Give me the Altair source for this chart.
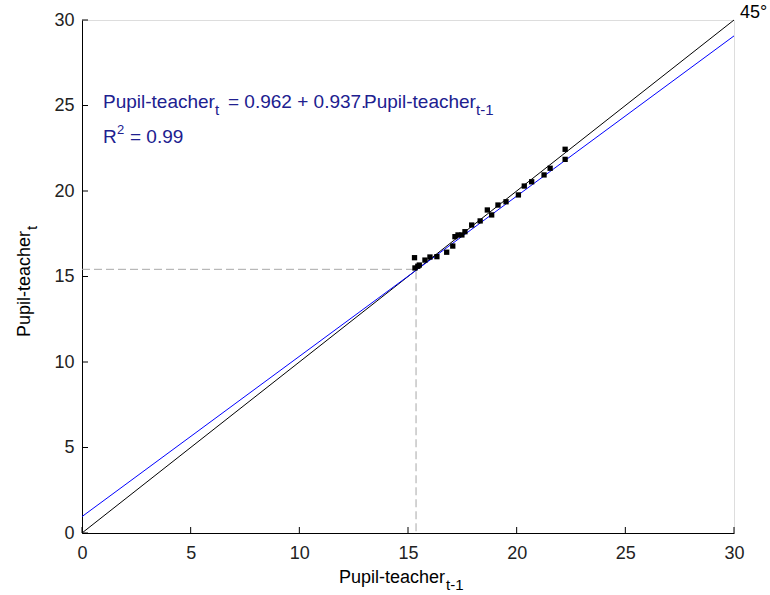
import altair as alt
import pandas as pd

FONT = "Liberation Sans"
NAVY = "#20208f"

tick_values = [0, 5, 10, 15, 20, 25, 30]

obs_x = [15.30, 15.32, 15.52, 15.45, 15.78, 16.01, 16.33, 16.78, 17.06, 17.16, 17.30,
         17.48, 17.62, 17.93, 18.32, 18.65, 18.85, 19.14, 19.51, 20.08, 20.35,
         20.69, 21.26, 21.54, 22.23, 22.23]
obs_y = [16.10, 15.50, 15.67, 15.60, 15.96, 16.14, 16.16, 16.42, 16.78, 17.33, 17.43,
         17.43, 17.62, 18.01, 18.25, 18.89, 18.60, 19.18, 19.37, 19.77, 20.29,
         20.54, 20.94, 21.33, 21.85, 22.44]

fit_x = [0, 30]
fit_y = [0.96, 29.07]
diag_x = [0, 30]
diag_y = [0, 30]
guide_x = [0, 15.37, 15.37]
guide_y = [15.42, 15.42, 0]

W, H = 652, 513

xs = alt.Scale(domain=[0, 30], nice=False)
ys = alt.Scale(domain=[0, 30], nice=False)

axis_common = dict(grid=False, ticks=False, domainColor="black", domainWidth=1,
                   labelFont=FONT, labelFontSize=18, labelColor="#222222",
                   labelFlush=False, values=tick_values, format="d", title=None)

obs = pd.DataFrame({"x": obs_x, "y": obs_y})
fit = pd.DataFrame({"x": fit_x, "y": fit_y})
diag = pd.DataFrame({"x": diag_x, "y": diag_y})
guide = pd.DataFrame({"x": guide_x, "y": guide_y, "o": [0, 1, 2]})
ticks = pd.DataFrame({"v": tick_values})
one = pd.DataFrame({"a": [0]})

base_axes = alt.Chart(diag).mark_line(color="black", strokeWidth=1).encode(
    x=alt.X("x:Q", scale=xs, axis=alt.Axis(labelPadding=11, **axis_common)),
    y=alt.Y("y:Q", scale=ys, axis=alt.Axis(labelPadding=8, **axis_common)),
)

fit_line = alt.Chart(fit).mark_line(color="#0000ff", strokeWidth=1).encode(
    x=alt.X("x:Q", scale=xs), y=alt.Y("y:Q", scale=ys))

guide_line = alt.Chart(guide).mark_line(color="#a8a8a8", strokeWidth=1, strokeDash=[8, 4]).encode(
    x=alt.X("x:Q", scale=xs), y=alt.Y("y:Q", scale=ys), order="o:Q")

points = alt.Chart(obs).mark_point(shape="square", filled=True, color="black", size=28, opacity=1).encode(
    x=alt.X("x:Q", scale=xs), y=alt.Y("y:Q", scale=ys))

xticks = alt.Chart(ticks).mark_rule(color="black", strokeWidth=1).encode(
    x=alt.X("v:Q", scale=xs), y=alt.value(H), y2=alt.value(H - 6))
yticks = alt.Chart(ticks).mark_rule(color="black", strokeWidth=1).encode(
    y=alt.Y("v:Q", scale=ys), x=alt.value(0), x2=alt.value(6))


def label(text, x, y, size=18, color="black", angle=0):
    return alt.Chart(one).mark_text(text=text, align="left", baseline="alphabetic",
                                    font=FONT, fontSize=size, color=color, angle=angle).encode(
        x=alt.value(x), y=alt.value(y))


texts = [
    # equation
    label("Pupil-teacher", 21, 88, size=19, color=NAVY),
    label("t", 133, 95, size=15, color=NAVY),
    label("= 0.962 + 0.937.", 146, 88, size=19, color=NAVY),
    label("Pupil-teacher", 282, 88, size=19, color=NAVY),
    label("t-1", 394, 95, size=15, color=NAVY),
    label("R", 21, 123, size=19, color=NAVY),
    label("2", 35, 114, size=13, color=NAVY),
    label("= 0.99", 48, 123, size=19, color=NAVY),
    # 45 degree label
    label("45°", 658, -2),
    # x title
    label("Pupil-teacher", 257, 563),
    label("t-1", 364, 570, size=15),
    # y title
    label("Pupil-teacher", -52, 317, angle=270),
    label("t", -45, 210, size=15, angle=270),
]

chart = alt.layer(base_axes, guide_line, fit_line, points, xticks, yticks, *texts).properties(
    width=W, height=H,
    autosize=alt.AutoSizeParams(type="none"),
    padding={"left": 82, "top": 20, "right": 36, "bottom": 62},
).configure_view(stroke=None).configure(background="white")

chart.save("out.html", embed_options={"renderer": "svg", "actions": False})
